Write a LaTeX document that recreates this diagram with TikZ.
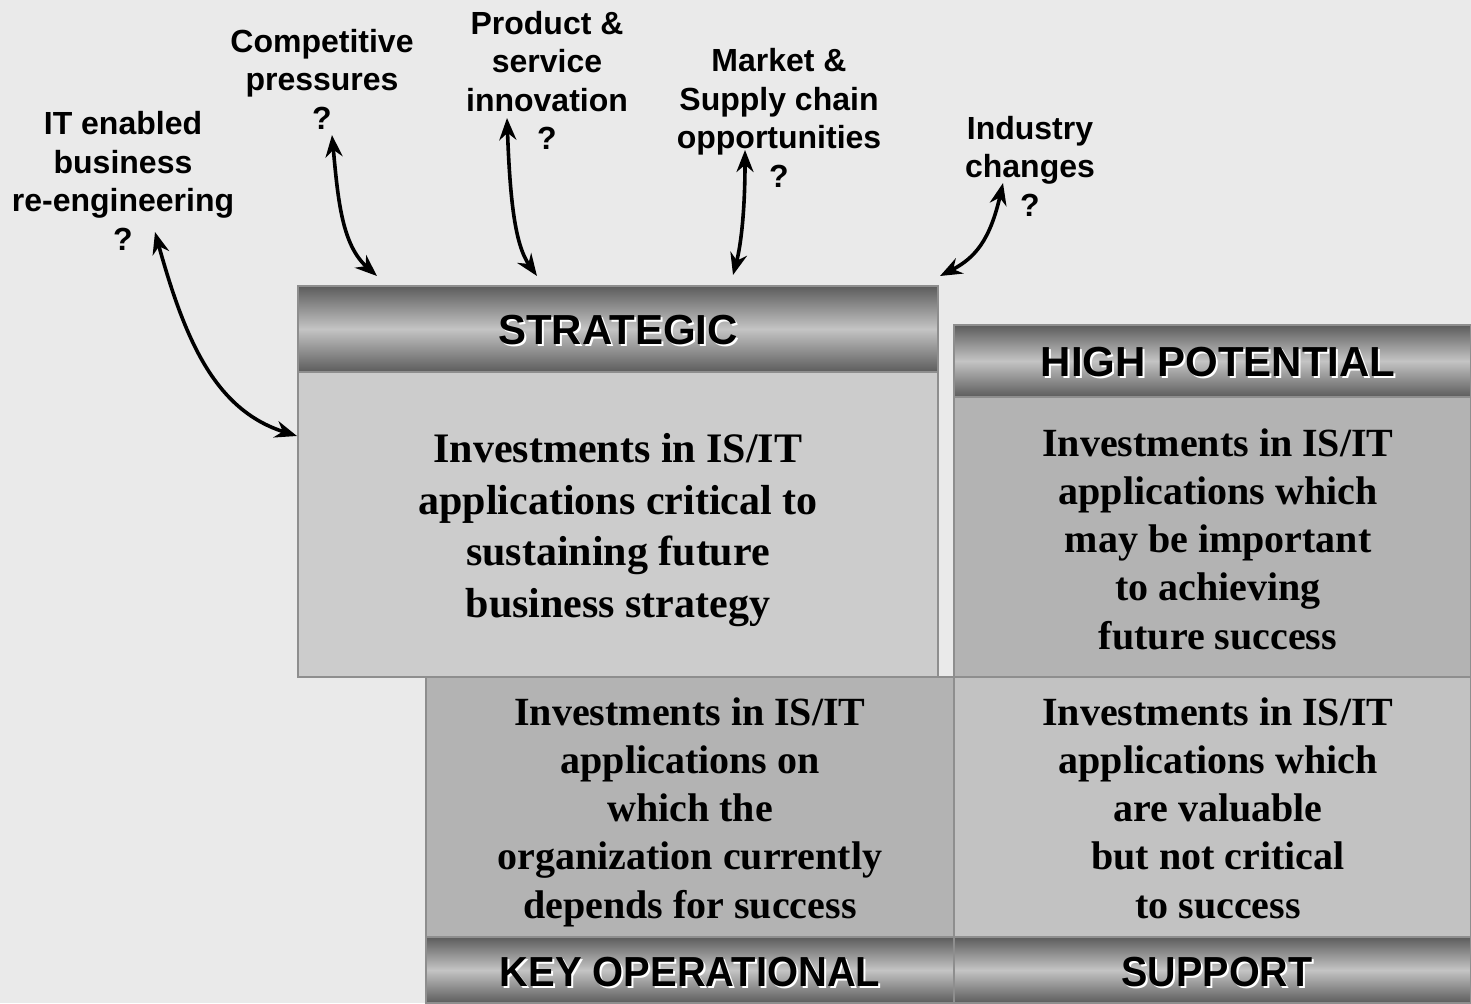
\documentclass[tikz,border=0pt]{standalone}
\usepackage{fontspec}
\setmainfont{Liberation Serif}
\setsansfont{Liberation Sans}
\usetikzlibrary{arrows.meta}
\definecolor{bg}{HTML}{EAEAEA}
\definecolor{boxline}{HTML}{8E8E8E}
\definecolor{hdrdark}{HTML}{5C5C5C}
\definecolor{hdrlight}{HTML}{C4C4C4}
\definecolor{bodyA}{HTML}{CCCCCC}
\definecolor{bodyB}{HTML}{B3B3B3}
\definecolor{bodyC}{HTML}{C2C2C2}
\begin{document}
\begin{tikzpicture}[x=1pt,y=-1pt,
  boxbase/.style={draw=boxline, line width=1.2pt, inner sep=0pt, outer sep=0pt},
  hdrbox/.style={boxbase, top color=hdrdark, bottom color=hdrdark, middle color=hdrlight},
  bodybox/.style={boxbase, fill=#1},
  hdrtext/.style={font=\sffamily\bfseries\fontsize{42}{48}\selectfont, text=black, inner sep=0pt},
  hdrshadow/.style={font=\sffamily\bfseries\fontsize{42}{48}\selectfont, text=white, inner sep=0pt},
  bodytext/.style={font=\rmfamily\bfseries\fontsize{40}{48.3}\selectfont, align=center, inner sep=0pt},
  toplabel/.style={font=\sffamily\bfseries\fontsize{32}{38.5}\selectfont, align=center, inner sep=0pt},
  arr/.style={{Stealth[length=22pt,width=17pt]}-{Stealth[length=22pt,width=17pt]}, line width=3.6pt, black}
]
\fill[bg] (0,0) rectangle (1471,1003);
\useasboundingbox (0,0) rectangle (1471,1003);

% ---- boxes ----
\node[bodybox=bodyA, minimum width=640, minimum height=305] (sbody) at (618,524.5) {};
\node[hdrbox, minimum width=640, minimum height=86] (shdr) at (618,329) {};

\node[bodybox=bodyB, minimum width=517, minimum height=280] (hbody) at (1212.5,537) {};
\node[hdrbox, minimum width=517, minimum height=72] (hhdr) at (1212.5,361) {};

\node[bodybox=bodyB, minimum width=528, minimum height=260] (kbody) at (690,807) {};
\node[hdrbox, minimum width=528, minimum height=66] (khdr) at (690,970) {};

\node[bodybox=bodyC, minimum width=517, minimum height=260] (pbody) at (1212.5,807) {};
\node[hdrbox, minimum width=517, minimum height=66] (phdr) at (1212.5,970) {};

% ---- header titles (white drop shadow + black text) ----
\node[hdrshadow] (st1) at (620,332) {STRATEGIC};
\node[hdrtext] (st2) at (618,330) {STRATEGIC};
\node[hdrshadow] (ht1) at (1220,364) {HIGH POTENTIAL};
\node[hdrtext] (ht2) at (1218,362) {HIGH POTENTIAL};
\node[hdrshadow, xscale=0.95] (kt1) at (692,974) {KEY OPERATIONAL};
\node[hdrtext, xscale=0.95] (kt2) at (690,972) {KEY OPERATIONAL};
\node[hdrshadow, xscale=0.94] (pt1) at (1219,974) {SUPPORT};
\node[hdrtext, xscale=0.94] (pt2) at (1217,972) {SUPPORT};

% ---- body texts ----
\node[bodytext, font=\rmfamily\bfseries\fontsize{42}{51.5}\selectfont] (stxt) at (618,530)
  {Investments in IS/IT\\applications critical to\\sustaining future\\business strategy};
\node[bodytext] (htxt) at (1218,539)
  {Investments in IS/IT\\applications which\\may be important\\to achieving\\future success};
\node[bodytext] (ktxt) at (690,812)
  {Investments in IS/IT\\applications on\\which the\\organization currently\\depends for success};
\node[bodytext] (ptxt) at (1218,808)
  {Investments in IS/IT\\applications which\\are valuable\\but not critical\\to success};

% ---- top labels ----
\node[toplabel] (l1) at (123,181) {IT enabled\\business\\re-engineering\\?};
\node[toplabel] (l2) at (322,79) {Competitive\\pressures\\?};
\node[toplabel] (l3) at (547,80.5) {Product \&\\service\\innovation\\?};
\node[toplabel] (l4) at (779,118) {Market \&\\Supply chain\\opportunities\\?};
\node[toplabel] (l5) at (1030,166) {Industry\\changes\\?};

% ---- arrow end points ----
\coordinate (e1a) at (155,232); \coordinate (e1b) at (297,436);
\coordinate (e2a) at (332,135); \coordinate (e2b) at (377,276);
\coordinate (e3a) at (507,118); \coordinate (e3b) at (537,276);
\coordinate (e4a) at (745,150); \coordinate (e4b) at (733,275);
\coordinate (e5a) at (1003,183); \coordinate (e5b) at (940,276);

\draw[arr] (e1a) .. controls (185,340) and (215,410) .. (e1b);
\draw[arr] (e2a) .. controls (338,200) and (342,245) .. (e2b);
\draw[arr] (e3a) .. controls (510,200) and (515,245) .. (e3b);
\draw[arr] (e4a) .. controls (745,210) and (741,245) .. (e4b);
\draw[arr] (e5a) .. controls (990,240) and (975,258) .. (e5b);
\end{tikzpicture}
\end{document}
